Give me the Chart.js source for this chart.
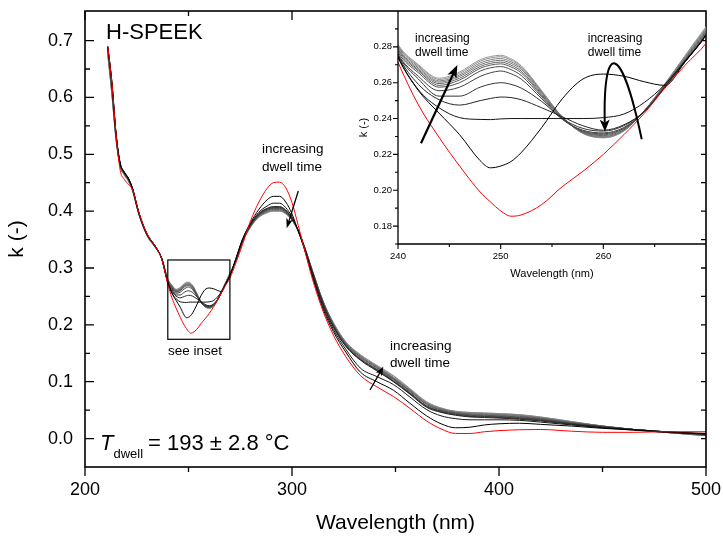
<!DOCTYPE html>
<html><head><meta charset="utf-8">
<script src="https://cdn.jsdelivr.net/npm/chart.js@4.4.0/dist/chart.umd.min.js"></script>
<style>
html,body{margin:0;padding:0;background:#fff;}
#wrap{position:relative;width:723px;height:538px;overflow:hidden;}
#main{position:absolute;left:0;top:0;}
#inset{position:absolute;left:350px;top:0;}
</style></head><body>
<div id="wrap"><canvas id="main" width="723" height="538"></canvas><canvas id="inset" width="373" height="290"></canvas></div>
<script>
// ---------- DATA ----------
const wavelengths = [211,213,215,217,219,221,223,226,230,234,237,
  240,242,244,246,248,249,250,251,252,254,256,258,260,262,264,266,268,270,
  273,276,280,284,288,291,294,297,300,303,306,310,315,320,326,333,341,349,357,365,372,379,386,393,400,410,420,435,450,465,480,500];

const k_t0 = [0.690,0.625,0.535,0.472,0.456,0.447,0.438,0.398,0.360,0.338,0.316,
  0.2715,0.2475,0.2295,0.2135,0.1990,0.1935,0.1885,0.1855,0.1862,0.1920,0.2020,0.2105,0.2200,0.2310,0.2430,0.2570,0.2700,0.2820,
  0.310,0.340,0.383,0.416,0.440,0.450,0.451,0.441,0.415,0.375,0.333,0.279,0.224,0.182,0.144,0.111,0.091,0.074,0.053,0.031,0.017,0.009,0.009,0.012,0.014,0.0155,0.016,0.013,0.011,0.011,0.012,0.012];
const k_t1 = [0.690,0.627,0.537,0.485,0.469,0.458,0.440,0.398,0.360,0.338,0.317,
  0.2740,0.2555,0.2430,0.2310,0.2165,0.2125,0.2135,0.2160,0.2210,0.2350,0.2510,0.2620,0.2648,0.2636,0.2605,0.2585,0.2720,0.2865,
  0.318,0.350,0.380,0.403,0.420,0.426,0.426,0.416,0.395,0.365,0.333,0.283,0.228,0.188,0.152,0.117,0.100,0.085,0.062,0.040,0.026,0.019,0.020,0.024,0.026,0.027,0.025,0.022,0.018,0.015,0.012,0.009];
const k_t2 = [0.689,0.626,0.536,0.484,0.468,0.457,0.439,0.397,0.359,0.338,0.317,
  0.2745,0.2560,0.2460,0.2405,0.2395,0.2394,0.2398,0.2400,0.2400,0.2400,0.2400,0.2400,0.2405,0.2425,0.2490,0.2590,0.2725,0.2865,
  0.317,0.349,0.378,0.398,0.409,0.414,0.414,0.406,0.390,0.365,0.334,0.286,0.232,0.192,0.157,0.124,0.109,0.095,0.073,0.051,0.040,0.035,0.033,0.033,0.033,0.032,0.029,0.024,0.019,0.015,0.011,0.008];
const k_t3 = [0.689,0.624,0.535,0.483,0.468,0.457,0.439,0.397,0.359,0.338,0.317,
  0.2750,0.2590,0.2505,0.2475,0.2500,0.2512,0.2520,0.2517,0.2505,0.2460,0.2410,0.2360,0.2335,0.2365,0.2440,0.2575,0.2718,0.2866,
  0.316,0.348,0.377,0.396,0.405,0.408,0.408,0.402,0.388,0.366,0.336,0.290,0.236,0.196,0.162,0.138,0.119,0.100,0.078,0.055,0.046,0.041,0.038,0.037,0.036,0.034,0.031,0.025,0.020,0.016,0.012,0.008];
const k_t4 = [0.688,0.622,0.534,0.483,0.467,0.456,0.439,0.397,0.359,0.338,0.317,
  0.2755,0.2620,0.2525,0.2525,0.2575,0.2592,0.2600,0.2591,0.2570,0.2495,0.2400,0.2345,0.2330,0.2360,0.2440,0.2575,0.2720,0.2868,
  0.316,0.347,0.376,0.395,0.404,0.407,0.407,0.401,0.387,0.366,0.336,0.291,0.237,0.197,0.163,0.139,0.120,0.101,0.079,0.056,0.047,0.042,0.039,0.038,0.037,0.035,0.032,0.026,0.020,0.016,0.012,0.008];
const k_t5 = [0.687,0.620,0.533,0.482,0.467,0.456,0.438,0.396,0.359,0.337,0.317,
  0.2760,0.2635,0.2555,0.2575,0.2635,0.2655,0.2665,0.2650,0.2620,0.2510,0.2395,0.2335,0.2320,0.2350,0.2440,0.2578,0.2722,0.2870,
  0.315,0.347,0.376,0.394,0.403,0.406,0.406,0.400,0.387,0.366,0.336,0.291,0.238,0.198,0.164,0.140,0.121,0.102,0.080,0.057,0.048,0.043,0.040,0.039,0.038,0.036,0.033,0.026,0.021,0.016,0.012,0.007];
const k_t6 = [0.685,0.617,0.531,0.482,0.466,0.455,0.438,0.396,0.358,0.337,0.317,
  0.2770,0.2655,0.2575,0.2600,0.2665,0.2683,0.2690,0.2673,0.2640,0.2520,0.2400,0.2330,0.2315,0.2345,0.2440,0.2580,0.2725,0.2875,
  0.315,0.346,0.375,0.393,0.402,0.405,0.405,0.399,0.386,0.366,0.337,0.292,0.239,0.199,0.165,0.141,0.122,0.104,0.081,0.058,0.049,0.044,0.041,0.040,0.039,0.037,0.034,0.027,0.021,0.016,0.012,0.007];
const k_t7 = [0.683,0.614,0.530,0.481,0.466,0.455,0.437,0.396,0.358,0.337,0.318,
  0.2780,0.2665,0.2585,0.2615,0.2680,0.2698,0.2705,0.2688,0.2655,0.2528,0.2403,0.2327,0.2310,0.2342,0.2441,0.2583,0.2730,0.2882,
  0.314,0.346,0.374,0.392,0.401,0.404,0.404,0.398,0.386,0.366,0.337,0.292,0.240,0.200,0.166,0.143,0.124,0.105,0.083,0.060,0.050,0.045,0.042,0.041,0.040,0.038,0.035,0.028,0.021,0.016,0.012,0.006];
const k_t8 = [0.681,0.611,0.529,0.481,0.465,0.454,0.437,0.395,0.358,0.337,0.318,
  0.2788,0.2672,0.2595,0.2625,0.2690,0.2708,0.2715,0.2698,0.2665,0.2535,0.2405,0.2324,0.2305,0.2338,0.2442,0.2586,0.2735,0.2888,
  0.314,0.346,0.374,0.391,0.400,0.403,0.403,0.397,0.385,0.365,0.337,0.293,0.240,0.201,0.167,0.144,0.125,0.106,0.084,0.061,0.051,0.046,0.043,0.042,0.041,0.039,0.036,0.028,0.022,0.016,0.011,0.006];
const k_t9 = [0.679,0.609,0.528,0.480,0.465,0.454,0.436,0.395,0.357,0.336,0.318,
  0.2795,0.2680,0.2603,0.2635,0.2700,0.2718,0.2725,0.2708,0.2675,0.2542,0.2407,0.2321,0.2300,0.2335,0.2443,0.2589,0.2740,0.2894,
  0.314,0.345,0.373,0.391,0.399,0.402,0.402,0.397,0.385,0.365,0.337,0.293,0.241,0.202,0.168,0.145,0.126,0.107,0.085,0.062,0.052,0.046,0.044,0.043,0.042,0.040,0.036,0.029,0.022,0.016,0.011,0.006];
const k_t10 = [0.678,0.607,0.527,0.480,0.464,0.453,0.436,0.395,0.357,0.336,0.318,
  0.2802,0.2688,0.2610,0.2643,0.2710,0.2728,0.2735,0.2717,0.2683,0.2548,0.2408,0.2319,0.2297,0.2333,0.2444,0.2591,0.2745,0.2900,
  0.313,0.345,0.373,0.390,0.398,0.401,0.401,0.396,0.385,0.365,0.338,0.294,0.241,0.203,0.169,0.146,0.127,0.108,0.086,0.063,0.053,0.047,0.045,0.044,0.043,0.041,0.037,0.029,0.022,0.016,0.011,0.005];
const k_t11 = [0.676,0.605,0.526,0.479,0.464,0.453,0.436,0.394,0.357,0.336,0.318,
  0.2808,0.2695,0.2618,0.2652,0.2720,0.2738,0.2745,0.2726,0.2690,0.2552,0.2409,0.2317,0.2294,0.2331,0.2444,0.2593,0.2750,0.2906,
  0.313,0.345,0.372,0.390,0.398,0.400,0.400,0.395,0.384,0.365,0.338,0.294,0.242,0.203,0.170,0.147,0.128,0.110,0.087,0.064,0.053,0.048,0.046,0.045,0.044,0.042,0.038,0.030,0.022,0.016,0.011,0.005];
const k_t12 = [0.675,0.603,0.525,0.479,0.463,0.452,0.435,0.394,0.356,0.336,0.318,
  0.2813,0.2700,0.2625,0.2660,0.2728,0.2746,0.2753,0.2733,0.2695,0.2555,0.2410,0.2318,0.2292,0.2330,0.2445,0.2595,0.2755,0.2912,
  0.313,0.345,0.372,0.389,0.397,0.400,0.400,0.395,0.384,0.365,0.338,0.294,0.242,0.204,0.170,0.148,0.129,0.111,0.088,0.065,0.054,0.048,0.046,0.045,0.044,0.042,0.038,0.030,0.022,0.016,0.011,0.005];

const series = [k_t0,k_t1,k_t2,k_t3,k_t4,k_t5,k_t6,k_t7,k_t8,k_t9,k_t10,k_t11,k_t12];
const seriesColors = ['#ff0000','#000000','#141414','#262626','#333333','#404040','#4d4d4d','#5a5a5a','#666666','#737373','#808080','#8c8c8c','#999999'];

const xTicksMain = [200,300,400,500];
const xMinorMain = [250,350,450];
const yTicksMain = [0.0,0.1,0.2,0.3,0.4,0.5,0.6,0.7];
const yMinorMain = [0.05,0.15,0.25,0.35,0.45,0.55,0.65];
const xTicksInset = [240,250,260];
const xMinorInset = [245,255,265];
const yTicksInset = [0.18,0.20,0.22,0.24,0.26,0.28];
const yMinorInset = [0.17,0.19,0.21,0.23,0.25,0.27,0.29];

series.forEach((s,i)=>{ if(s.length!==wavelengths.length) throw new Error('length mismatch '+i+' '+s.length); });

// ---------- DRAW ----------
const FAM = "'Liberation Sans', Arial, Helvetica, sans-serif";
Chart.defaults.font.family = FAM;
Chart.defaults.color = '#000';

function makeDatasets(){
  return series.map((s,i)=>({
    data: wavelengths.map((w,j)=>({x:w,y:s[j]})),
    borderColor: seriesColors[i], borderWidth: 1, pointRadius: 0, fill: false,
    cubicInterpolationMode: 'monotone'
  }));
}
function fixSize(prop,val){
  return s=>{ s[prop]=val; s.paddingLeft=0; s.paddingRight=0; s.paddingTop=0; s.paddingBottom=0; };
}

function arrow(ctx,x1,y1,x2,y2,lw,hl,hw){
  const a = Math.atan2(y2-y1,x2-x1), c=Math.cos(a), s=Math.sin(a);
  const bx = x2-hl*c, by = y2-hl*s;
  ctx.lineWidth=lw; ctx.strokeStyle='#000'; ctx.fillStyle='#000';
  ctx.beginPath(); ctx.moveTo(x1,y1); ctx.lineTo(bx+0.3*hl*c,by+0.3*hl*s); ctx.stroke();
  ctx.beginPath(); ctx.moveTo(x2,y2);
  ctx.lineTo(bx+hw/2*s, by-hw/2*c);
  ctx.lineTo(bx+0.25*hl*c, by+0.25*hl*s);
  ctx.lineTo(bx-hw/2*s, by+hw/2*c);
  ctx.closePath(); ctx.fill();
}

const mainDecor = {
  id:'mainDecor',
  afterDraw(chart){
    const {ctx, chartArea:a, scales:{x,y}} = chart;
    const X=v=>x.getPixelForValue(v), Y=v=>y.getPixelForValue(v);
    ctx.save();
    ctx.strokeStyle='#000';
    ctx.lineWidth=1.3;
    ctx.beginPath();
    xTicksMain.forEach(v=>{const p=X(v); ctx.moveTo(p,a.bottom); ctx.lineTo(p,a.bottom+9); if(v<350){ctx.moveTo(p,a.top); ctx.lineTo(p,a.top+9);} });
    xMinorMain.forEach(v=>{const p=X(v); ctx.moveTo(p,a.bottom); ctx.lineTo(p,a.bottom+5); if(v<350){ctx.moveTo(p,a.top); ctx.lineTo(p,a.top+5);} });
    yTicksMain.forEach(v=>{const p=Y(v); ctx.moveTo(a.left,p); ctx.lineTo(a.left+9,p); ctx.moveTo(a.right,p); ctx.lineTo(a.right-5,p);});
    yMinorMain.forEach(v=>{const p=Y(v); ctx.moveTo(a.left,p); ctx.lineTo(a.left+5,p); ctx.moveTo(a.right,p); ctx.lineTo(a.right-5,p);});
    ctx.stroke();
    ctx.lineWidth=1.6;
    ctx.strokeRect(a.left,a.top,a.right-a.left,a.bottom-a.top);
    // see-inset box
    ctx.lineWidth=1.2;
    ctx.strokeRect(X(240),Y(0.3141),X(270)-X(240),Y(0.1746)-Y(0.3141));
    // texts
    ctx.fillStyle='#000';
    ctx.textAlign='left'; ctx.textBaseline='alphabetic';
    ctx.font='22px '+FAM;
    ctx.fillText('H-SPEEK',X(210.14),Y(0.7027));
    const tx=X(207.25), ty=Y(-0.0201);
    ctx.font='italic 22px '+FAM;
    ctx.fillText('T',tx,ty);
    const tw=ctx.measureText('T').width;
    ctx.font='13px '+FAM;
    ctx.fillText('dwell',tx+tw,ty+8);
    const dw=ctx.measureText('dwell').width;
    ctx.font='22px '+FAM;
    ctx.fillText('= 193 \u00b1 2.8 \u00b0C',tx+tw+dw+5,ty);
    ctx.font='13.5px '+FAM; ctx.textBaseline='middle';
    ctx.fillText('increasing',X(285.5),Y(0.5093));
    ctx.fillText('dwell time',X(285.5),Y(0.4776));
    ctx.fillText('increasing',X(347.34),Y(0.1628));
    ctx.fillText('dwell time',X(347.34),Y(0.1329));
    ctx.fillText('see inset',X(240.1),Y(0.154));
    arrow(ctx,X(303.04),Y(0.4354),X(297.44),Y(0.3698),1.3,10,7);
    arrow(ctx,X(337.68),Y(0.0854),X(344.11),Y(0.1264),1.3,9,7);
    ctx.restore();
  }
};

const insetDecor = {
  id:'insetDecor',
  afterDraw(chart){
    const {ctx, chartArea:a, scales:{x,y}} = chart;
    const X=v=>x.getPixelForValue(v), Y=v=>y.getPixelForValue(v);
    ctx.save();
    ctx.strokeStyle='#000'; ctx.lineWidth=1.1;
    ctx.beginPath();
    xTicksInset.forEach(v=>{const p=X(v); ctx.moveTo(p,a.bottom); ctx.lineTo(p,a.bottom+5);});
    xMinorInset.forEach(v=>{const p=X(v); ctx.moveTo(p,a.bottom); ctx.lineTo(p,a.bottom+3);});
    yTicksInset.forEach(v=>{const p=Y(v); ctx.moveTo(a.left,p); ctx.lineTo(a.left-5,p);});
    yMinorInset.forEach(v=>{const p=Y(v); ctx.moveTo(a.left,p); ctx.lineTo(a.left-3,p);});
    ctx.stroke();
    ctx.lineWidth=1.3;
    ctx.beginPath(); ctx.moveTo(a.left,a.top); ctx.lineTo(a.left,a.bottom); ctx.lineTo(a.right,a.bottom); ctx.stroke();
    ctx.fillStyle='#000'; ctx.textAlign='left'; ctx.textBaseline='middle';
    ctx.font='12px '+FAM;
    ctx.fillText('increasing',X(241.66),Y(0.2844));
    ctx.fillText('dwell time',X(241.66),Y(0.2766));
    ctx.fillText('increasing',X(258.48),Y(0.2844));
    ctx.fillText('dwell time',X(258.48),Y(0.2766));
    arrow(ctx,X(242.24),Y(0.2262),X(245.78),Y(0.2699),2.2,13,10);
    // curved arrow
    const sx=X(263.74), sy=Y(0.2284), c1x=X(261.72), c1y=Y(0.2833), c2x=X(259.97), c2y=Y(0.2833), ex=X(260.16), ey=Y(0.2327);
    const a2=Math.atan2(ey-c2y,ex-c2x), hl=12, hw=10;
    const bx=ex-hl*Math.cos(a2), by=ey-hl*Math.sin(a2);
    ctx.lineWidth=2; ctx.beginPath(); ctx.moveTo(sx,sy); ctx.bezierCurveTo(c1x,c1y,c2x,c2y,bx,by+3); ctx.stroke();
    ctx.beginPath(); ctx.moveTo(ex,ey);
    ctx.lineTo(bx+hw/2*Math.sin(a2), by-hw/2*Math.cos(a2));
    ctx.lineTo(bx+0.25*hl*Math.cos(a2), by+0.25*hl*Math.sin(a2));
    ctx.lineTo(bx-hw/2*Math.sin(a2), by+hw/2*Math.cos(a2));
    ctx.closePath(); ctx.fill();
    ctx.restore();
  }
};

new Chart(document.getElementById('main'),{
  type:'line',
  data:{datasets:makeDatasets()},
  options:{
    responsive:false, animation:false, devicePixelRatio:1,
    layout:{autoPadding:false,padding:{top:11,right:17,left:0,bottom:0}},
    plugins:{legend:{display:false},tooltip:{enabled:false}},
    scales:{
      x:{type:'linear',min:200,max:500,
        afterBuildTicks:s=>{s.ticks=xTicksMain.map(v=>({value:v}));},
        afterFit:fixSize('height',71),
        ticks:{font:{size:18},color:'#000',padding:12,autoSkip:false,maxRotation:0,callback:v=>v.toFixed(0)},
        grid:{display:false,drawTicks:false},border:{display:false},
        title:{display:true,text:'Wavelength (nm)',font:{size:21},color:'#000',padding:{top:0,bottom:2}}},
      y:{type:'linear',min:-0.05,max:0.752,
        afterBuildTicks:s=>{s.ticks=yTicksMain.map(v=>({value:v}));},
        afterFit:fixSize('width',85),
        ticks:{font:{size:18},color:'#000',padding:12,autoSkip:false,callback:v=>v.toFixed(1)},
        grid:{display:false,drawTicks:false},border:{display:false},
        title:{display:true,text:'k (-)',font:{size:21},color:'#000',padding:{top:5,bottom:0}}}
    }
  },
  plugins:[mainDecor]
});

new Chart(document.getElementById('inset'),{
  type:'line',
  data:{datasets:makeDatasets()},
  options:{
    responsive:false, animation:false, devicePixelRatio:1,
    layout:{autoPadding:false,padding:{top:11,right:17,left:0,bottom:0}},
    plugins:{legend:{display:false},tooltip:{enabled:false}},
    scales:{
      x:{type:'linear',min:240,max:270,
        afterBuildTicks:s=>{s.ticks=xTicksInset.map(v=>({value:v}));},
        afterFit:fixSize('height',46),
        ticks:{font:{size:9.5},color:'#000',padding:7,autoSkip:false,maxRotation:0,callback:v=>v.toFixed(0)},
        grid:{display:false,drawTicks:false},border:{display:false},
        title:{display:true,text:'Wavelength (nm)',font:{size:11},color:'#000',padding:{top:0,bottom:9}}},
      y:{type:'linear',min:0.17,max:0.30,
        afterBuildTicks:s=>{s.ticks=yTicksInset.map(v=>({value:v}));},
        afterFit:fixSize('width',48),
        ticks:{font:{size:9.5},color:'#000',padding:6,autoSkip:false,callback:v=>v.toFixed(2)},
        grid:{display:false,drawTicks:false},border:{display:false},
        title:{display:true,text:'k (-)',font:{size:11},color:'#000',padding:{top:7,bottom:0}}}
    }
  },
  plugins:[insetDecor]
});
</script>
</body></html>
